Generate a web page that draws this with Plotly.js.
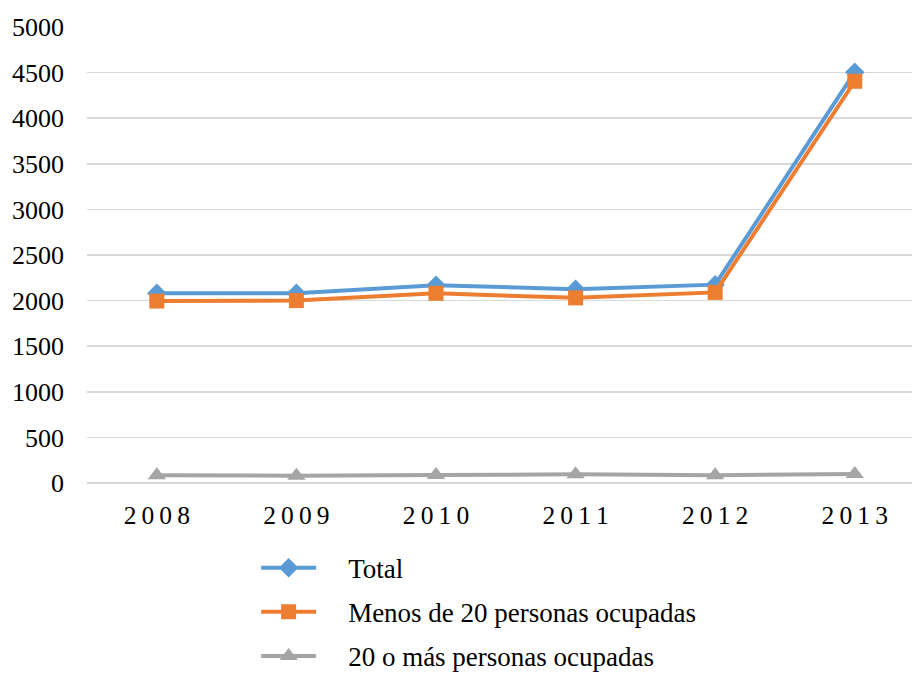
<!DOCTYPE html>
<html>
<head>
<meta charset="utf-8">
<script src="https://cdn.plot.ly/plotly-3.0.1.min.js"></script>
<style>
  html, body { margin: 0; padding: 0; background: #fff; }
  #chart { width: 912px; height: 673px; }
</style>
</head>
<body>
<div id="chart"></div>
<script>
// Years on the category axis
const years = ["2008", "2009", "2010", "2011", "2012", "2013"];

// Series values
const total = [2080, 2080, 2168, 2125, 2175, 4505];
const menos20 = [1995, 2000, 2080, 2030, 2090, 4405];
const mas20 = [85, 80, 88, 95, 85, 100];

// Series names
const nameTotal = "Total";
const nameMenos = "Menos de 20 personas ocupadas";
const nameMas = "20 o más personas ocupadas";

// Tick labels are drawn with a little tracking between the digits
const yearLabels = years.map(y => y.split("").join("\u2009"));

// Legend entries sit a bit further from their symbols
const pad = "\u2002\u2002";

const font = "Liberation Serif, Times New Roman, serif";

const traces = [
  {
    x: years, y: total, name: pad + nameTotal, type: "scatter", mode: "lines+markers",
    legendgroup: "a",
    line: { color: "#5B9BD5", width: 4 },
    marker: { symbol: "diamond", size: 15, color: "#5B9BD5" }
  },
  {
    x: years, y: menos20, name: pad + nameMenos, type: "scatter", mode: "lines+markers",
    legendgroup: "b",
    line: { color: "#ED7D31", width: 4 },
    marker: { symbol: "square", size: 15, color: "#ED7D31" }
  },
  {
    x: years, y: mas20, name: pad + nameMas, type: "scatter", mode: "lines+markers",
    legendgroup: "c",
    line: { color: "#A5A5A5", width: 4 },
    marker: { symbol: "triangle-up", size: 16, color: "#A5A5A5" }
  }
];

const layout = {
  width: 912, height: 673,
  margin: { l: 87, r: 0, t: 27, b: 190, autoexpand: false },
  paper_bgcolor: "#fff", plot_bgcolor: "#fff",
  font: { family: font, size: 26, color: "#000" },
  showlegend: true,
  legend: {
    orientation: "v",
    x: 0.205, xanchor: "left",
    y: -0.133, yanchor: "top",
    font: { family: font, size: 27, color: "#000" },
    traceorder: "grouped",
    tracegroupgap: 6,
    itemwidth: 55
  },
  xaxis: {
    type: "category",
    range: [-0.5, 5.41],
    tickvals: years, ticktext: yearLabels,
    showgrid: false, zeroline: false,
    showline: false, ticks: "",
    ticklabelstandoff: 14,
    tickfont: { family: font, size: 25.5, color: "#000" },
    fixedrange: true
  },
  yaxis: {
    range: [0, 5000],
    dtick: 500, tick0: 0,
    showgrid: true, gridcolor: "#D9D9D9", gridwidth: 1.5,
    zeroline: true, zerolinecolor: "#D9D9D9", zerolinewidth: 1.5,
    showline: false, ticks: "",
    ticklabelstandoff: 22,
    tickfont: { family: font, size: 26, color: "#000" },
    fixedrange: true
  }
};

Plotly.newPlot("chart", traces, layout, { displayModeBar: false, staticPlot: true });
</script>
</body>
</html>
